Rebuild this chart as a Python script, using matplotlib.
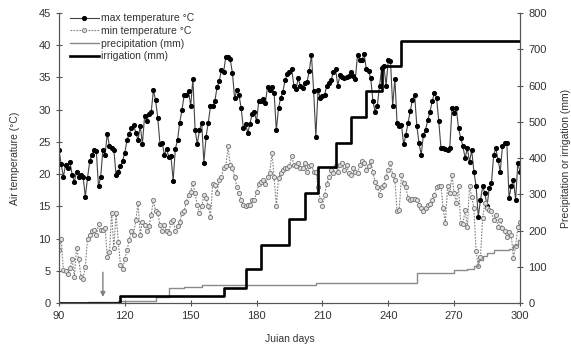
import numpy as np
import matplotlib
matplotlib.use("Agg")
import matplotlib.pyplot as plt

plt.rcParams["font.family"] = ["Liberation Sans", "DejaVu Sans"]

# daily air temperature, Julian day 90..300
tmax = [
    23.8, 21.5, 19.6, 21.4, 21.0, 21.9, 19.9, 18.8, 20.4, 19.6,
    19.9, 19.5, 16.5, 19.4, 22.0, 23.0, 23.8, 23.6, 18.1, 19.6,
    23.8, 23.0, 26.3, 24.3, 24.0, 23.7, 19.9, 20.4, 21.2, 22.1,
    23.3, 25.3, 26.3, 27.1, 27.6, 26.4, 25.3, 27.5, 24.7, 29.0,
    28.2, 29.4, 29.6, 33.0, 31.5, 28.7, 24.7, 24.9, 23.0, 23.9,
    22.7, 22.8, 19.0, 23.9, 25.3, 28.0, 29.9, 32.2, 32.3, 32.9,
    30.6, 34.8, 26.8, 24.7, 26.8, 28.0, 21.8, 25.8, 28.0, 30.5,
    30.5, 31.3, 33.5, 34.4, 36.2, 35.9, 38.2, 38.1, 37.8, 35.7,
    31.8, 33.0, 32.3, 30.2, 27.1, 27.8, 26.4, 27.8, 29.4, 29.6,
    28.2, 31.3, 31.4, 31.7, 31.0, 33.5, 33.1, 33.5, 32.6, 26.8,
    30.3, 31.8, 32.8, 34.6, 35.5, 35.9, 36.3, 33.7, 33.2, 34.9,
    33.6, 33.4, 34.1, 34.3, 36.0, 38.5, 32.9, 25.8, 33.0, 31.8,
    32.1, 32.3, 33.7, 34.1, 34.6, 35.9, 36.3, 33.7, 35.4, 35.1,
    34.9, 35.0, 35.2, 35.9, 35.3, 34.8, 38.5, 37.7, 37.7, 38.6,
    36.3, 36.0, 34.9, 31.3, 29.7, 30.6, 33.7, 36.4, 36.8, 33.7,
    37.7, 37.6, 30.6, 34.8, 27.9, 27.5, 27.6, 24.6, 26.1, 27.9,
    29.8, 31.5, 32.3, 27.5, 24.8, 23.0, 26.1, 26.9, 28.4, 29.7,
    31.3, 32.6, 31.8, 28.2, 24.0, 24.0, 23.9, 23.8, 24.0, 30.2,
    29.5, 30.2, 27.1, 25.6, 24.3, 22.5, 24.0, 21.9, 23.7, 20.4,
    18.1, 13.4, 16.0, 18.1, 17.0, 15.1, 17.8, 18.6, 23.0, 24.0,
    22.2, 20.4, 24.3, 24.8, 24.8, 16.3, 18.1, 19.1, 16.0, 21.7,
    20.4,
]

tmin = [
    8.2, 10.0, 5.1, 4.9, 4.5, 5.4, 6.8, 4.1, 8.6, 6.8,
    4.1, 3.8, 5.6, 10.0, 10.5, 11.1, 11.3, 10.5, 12.2, 11.4,
    11.3, 11.6, 7.1, 7.9, 14.0, 8.5, 13.9, 9.5, 5.9, 5.2,
    6.9, 8.2, 9.8, 11.1, 10.6, 12.9, 15.5, 10.6, 12.6, 12.1,
    11.1, 11.9, 13.7, 16.0, 14.2, 13.9, 12.1, 11.1, 12.1, 11.1,
    10.8, 12.6, 12.9, 11.1, 11.9, 12.6, 13.9, 14.2, 15.7, 16.8,
    17.3, 18.6, 17.0, 15.2, 13.9, 15.0, 16.8, 16.3, 15.0, 13.4,
    18.4, 18.3, 17.0, 19.1, 19.6, 20.9, 21.2, 24.3, 21.4, 20.9,
    19.6, 18.0, 17.0, 16.0, 15.2, 15.0, 15.2, 15.2, 16.0, 16.0,
    17.2, 18.4, 18.8, 19.1, 18.4, 19.6, 20.2, 23.3, 19.6, 15.0,
    19.4, 20.2, 20.7, 20.9, 20.9, 21.2, 22.8, 21.4, 21.2, 21.7,
    20.9, 20.9, 21.7, 20.4, 21.2, 21.4, 20.4, 20.4, 18.0, 16.0,
    15.0, 16.8, 18.4, 19.6, 20.7, 20.2, 21.2, 20.4, 21.4, 21.7,
    20.7, 21.4, 20.2, 19.9, 20.9, 20.4, 20.2, 21.4, 22.1, 21.7,
    20.7, 21.2, 22.1, 20.4, 18.8, 18.0, 16.8, 18.0, 18.3, 19.6,
    20.7, 21.7, 19.9, 19.1, 14.2, 14.5, 19.9, 18.6, 18.0, 16.3,
    16.0, 16.1, 16.1, 16.0, 15.2, 14.7, 14.2, 14.7, 15.2, 15.4,
    16.0, 16.8, 18.0, 18.1, 18.1, 14.7, 12.4, 18.1, 17.0, 19.9,
    17.0, 15.5, 18.1, 12.4, 12.2, 14.5, 11.8, 18.1, 16.5, 14.7,
    8.0, 5.7, 7.2, 13.2, 15.5, 14.7, 14.5, 14.2, 12.9, 13.7,
    11.8, 12.9, 11.6, 11.1, 10.3, 11.0, 10.6, 7.0, 8.8, 11.8,
    12.6,
]

# rain events (day, mm) and irrigation events (day, mm)
rain_days = [103, 117, 134, 140, 147, 155, 207, 253, 270, 276, 279, 281, 283, 285, 288, 295, 297, 299]
rain_mm = [2, 4, 10, 25, 3, 6, 4, 28, 8, 3, 8, 19, 11, 8, 7, 2, 13, 12]
irr_days = [118, 165, 175, 182, 195, 202, 208, 216, 223, 230, 237, 246]
irr_mm = [20, 21, 52, 67, 71, 73, 70, 67, 71, 72, 69, 69]

days = np.arange(90, 90 + len(tmax))
precip_cum = np.zeros(len(days))
for d, a in zip(rain_days, rain_mm):
    precip_cum[days >= d] += a
irr_cum = np.zeros(len(days))
for d, a in zip(irr_days, irr_mm):
    irr_cum[days >= d] += a

fig = plt.figure(figsize=(5.71, 3.47), dpi=100)
ax = fig.add_axes([0.1033, 0.1268, 0.8074, 0.8357])
ax2 = ax.twinx()

txt = "#333333"
l1, = ax.plot(days, tmax, color="#444444", lw=0.8, marker="o", ms=2.7,
              mfc="black", mec="black", label="max temperature °C")
l2, = ax.plot(days, tmin[:len(days)], color="#808080", lw=0.8, ls=(0, (1.5, 1.2)), marker="o",
              ms=3, mfc="#e0e0e0", mec="#808080", mew=0.7, label="min temperature °C")
l3, = ax2.plot(days, precip_cum, color="#8a8a8a", lw=1.0, drawstyle="steps-post",
               label="precipitation (mm)")
l4, = ax2.plot(days, irr_cum, color="black", lw=1.9, drawstyle="steps-post",
               label="irrigation (mm)")

ax.annotate("", xy=(110, 0.5), xytext=(110, 5.2),
            arrowprops=dict(arrowstyle="-|>", color="#808080", lw=1.0,
                            mutation_scale=7))

ax.set_xlim(90, 300)
ax.set_ylim(0, 45)
ax2.set_ylim(0, 800)
ax.set_xticks(np.arange(90, 301, 30))
ax.set_yticks(np.arange(0, 46, 5))
ax2.set_yticks(np.arange(0, 801, 100))

for a in (ax, ax2):
    a.spines["top"].set_visible(False)
    for s in a.spines.values():
        s.set_color("#555555")
        s.set_linewidth(0.8)
    a.tick_params(direction="inout", length=5, width=0.8, colors="#555555",
                  labelcolor=txt, labelsize=8)

ax.set_ylabel("Air temperature (°C)", fontsize=7.5, color=txt, labelpad=13)
ax2.set_ylabel("Precipitation or irrigation (mm)", fontsize=7.5, color=txt, labelpad=10)
ax.set_xlabel("Juian days", fontsize=7.5, color=txt, labelpad=9)

leg = ax.legend(handles=[l1, l2, l3, l4], loc="upper left", bbox_to_anchor=(0.01, 1.02),
                frameon=False, fontsize=7.5, handlelength=2.8, labelspacing=0.25,
                handletextpad=0.2, borderaxespad=0.2)
for t in leg.get_texts():
    t.set_color(txt)

fig.savefig("out.png", dpi=100)
